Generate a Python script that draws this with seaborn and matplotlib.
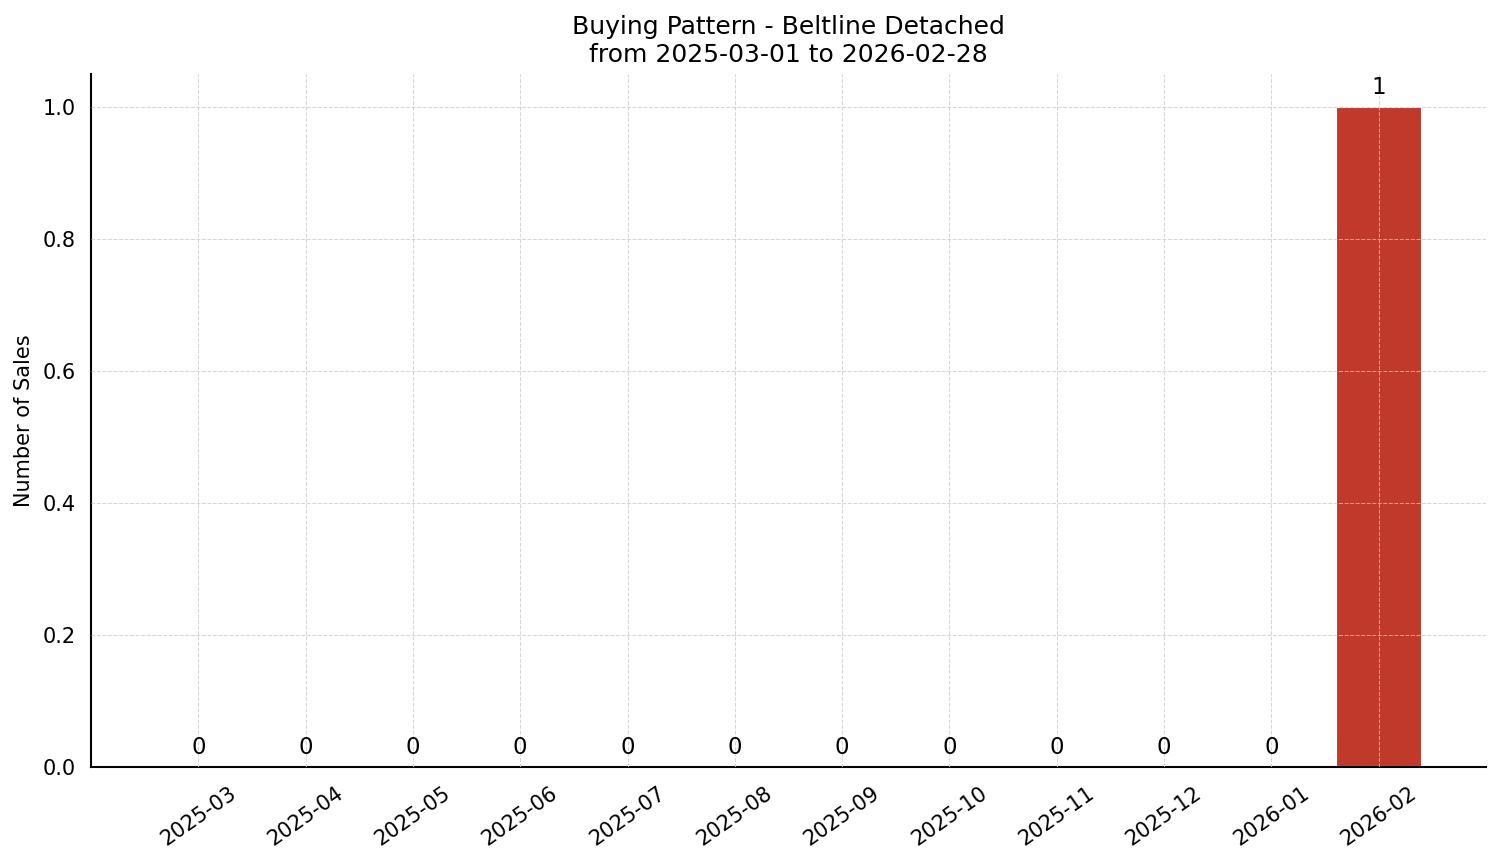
import matplotlib
matplotlib.use("Agg")
import matplotlib.pyplot as plt
import seaborn as sns
import pandas as pd

months = ["2025-03", "2025-04", "2025-05", "2025-06", "2025-07", "2025-08",
          "2025-09", "2025-10", "2025-11", "2025-12", "2026-01", "2026-02"]
sales = [0, 0, 0, 0, 0, 0, 0, 0, 0, 0, 0, 1]
title = "Buying Pattern - Beltline Detached\nfrom 2025-03-01 to 2026-02-28"

df = pd.DataFrame({"month": months, "sales": sales})

sns.set_style("white")
plt.rcParams["font.family"] = ["DejaVu Sans"]
plt.rcParams["text.color"] = "black"
plt.rcParams["axes.labelcolor"] = "black"
plt.rcParams["xtick.color"] = "black"
plt.rcParams["ytick.color"] = "black"

fig = plt.figure(figsize=(1501 / 150, 863 / 150), dpi=150)
ax = fig.add_axes([91 / 1501, 1 - 767 / 863, (1486 - 91) / 1501, (767 - 74) / 863])

sns.barplot(data=df, x="month", y="sales", color="#C0392B", saturation=1,
            width=0.8, ax=ax, zorder=1)
ax.set_axisbelow(False)
ax.grid(True, linestyle="--", color="#cccccc", alpha=0.8, linewidth=0.5, zorder=3)

for i, v in enumerate(sales):
    ax.annotate(str(v), (i, v), xytext=(0, 4), textcoords="offset points",
                ha="center", va="bottom", fontsize=11, color="black")

ax.set_xlim(-1, 12)
ax.set_ylim(0, 1.05)
ax.set_xlabel("")
ax.set_ylabel("Number of Sales", fontsize=10, color="black")
ax.set_title(title, fontsize=12, color="black")
ax.tick_params(axis="x", rotation=35, labelsize=10, length=4, width=1, colors="black")
ax.tick_params(axis="y", labelsize=10, length=4, width=1, colors="black")
for lab in ax.get_xticklabels():
    lab.set_ha("center")
for s in ["top", "right"]:
    ax.spines[s].set_visible(False)
for s in ["left", "bottom"]:
    ax.spines[s].set_color("black")
    ax.spines[s].set_linewidth(1)

fig.savefig("out.png", dpi=150)
